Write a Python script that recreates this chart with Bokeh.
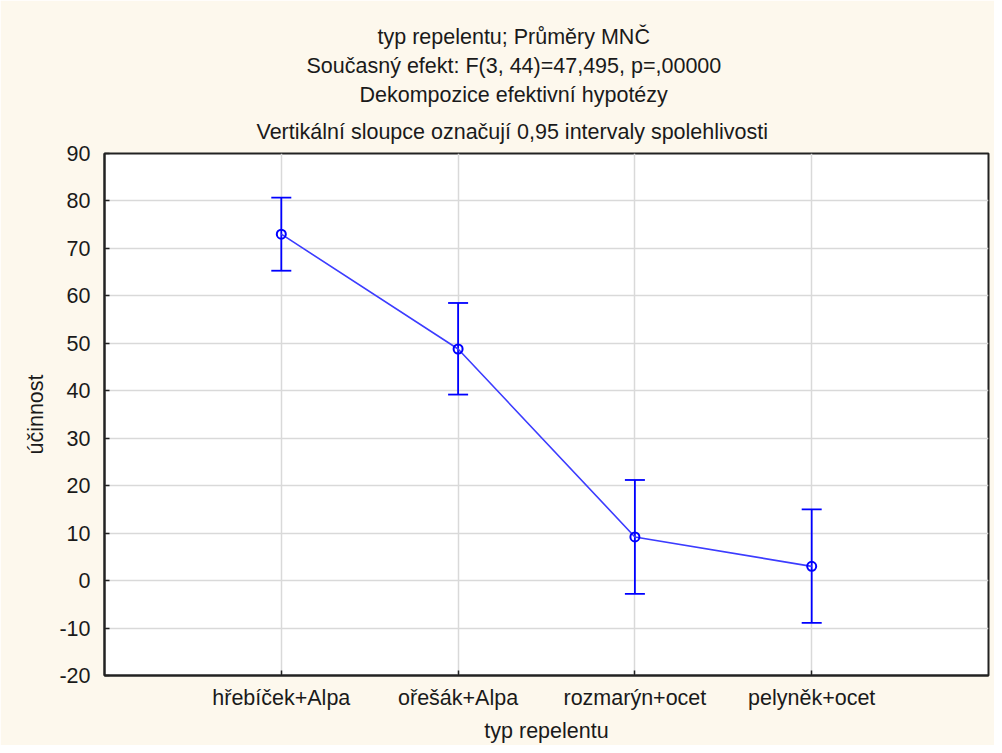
from bokeh.plotting import figure
from bokeh.models import (Range1d, ColumnDataSource, Whisker, TeeHead,
                          SingleIntervalTicker, FixedTicker, Title)
from bokeh.embed import file_html
from bokeh.resources import INLINE

categories = ["hřebíček+Alpa", "ořešák+Alpa", "rozmarýn+ocet", "pelyněk+ocet"]
means = [73.0, 48.8, 9.2, 3.0]
lower = [65.3, 39.2, -2.8, -8.9]
upper = [80.7, 58.5, 21.2, 15.0]

title_lines = [
    "typ repelentu; Průměry MNČ",
    "Současný efekt: F(3, 44)=47,495, p=,00000",
    "Dekompozice efektivní hypotézy",
    "Vertikální sloupce označují 0,95 intervaly spolehlivosti",
]
# left offsets (px from frame left) that centre each line near the canvas centre
title_offsets = [273, 202, 255, 152]

FONT = "Liberation Sans"
FS = "21.5px"
TXT = "#1a1a1a"
BG = "#fdf8ed"

pos = [i + 1 for i in range(len(categories))]

p = figure(width=994, height=745, output_backend="svg", toolbar_location=None,
           x_range=Range1d(0, len(categories) + 1),
           y_range=Range1d(-20, 90),
           min_border_left=104, min_border_right=6, min_border_top=153,
           min_border_bottom=68)

p.title.visible = False
n = len(title_lines)
for i in range(n - 1, -1, -1):
    t = Title(text=title_lines[i], align="left", offset=title_offsets[i],
              text_font=FONT, text_font_size=FS, text_font_style="normal",
              text_color=TXT, standoff=19 if i == n - 1 else 3)
    p.add_layout(t, "above")

p.background_fill_color = "white"
p.border_fill_color = BG
p.outline_line_color = "#222222"
p.outline_line_width = 2

src = ColumnDataSource(dict(x=pos, m=means, lo=lower, hi=upper))

p.line("x", "m", source=src, line_color="#3c3cff", line_width=1.6)
w = Whisker(base="x", lower="lo", upper="hi", source=src, dimension="height",
            line_color="#0000ff", line_width=1.8,
            upper_head=TeeHead(size=20, line_color="#0000ff", line_width=1.8),
            lower_head=TeeHead(size=20, line_color="#0000ff", line_width=1.8))
p.add_layout(w)
p.scatter("x", "m", source=src, marker="circle", size=9, line_color="#0000ff",
          line_width=2, fill_alpha=0)

xax = p.below[0]
yax = p.left[0]
xax.ticker = FixedTicker(ticks=pos)
xax.major_label_overrides = {k: c for k, c in zip(pos, categories)}
yax.ticker = SingleIntervalTicker(interval=10)
yax.major_label_overrides = {-20: "-20", -10: "-10"}
for ax in (xax, yax):
    ax.axis_line_color = "#222222"
    ax.axis_line_width = 2
    ax.major_tick_in = 5
    ax.major_tick_out = 0
    ax.major_tick_line_color = "#222222"
    ax.major_tick_line_width = 1.5
    ax.minor_tick_line_color = None
    ax.major_label_text_font = FONT
    ax.major_label_text_font_size = FS
    ax.major_label_text_color = TXT
    ax.axis_label_text_font = FONT
    ax.axis_label_text_font_size = FS
    ax.axis_label_text_font_style = "normal"
    ax.axis_label_text_color = TXT

yax.axis_label = "účinnost"
xax.axis_label = "typ repelentu"
yax.major_label_standoff = 10
yax.axis_label_standoff = 8
xax.major_label_standoff = 10
xax.axis_label_standoff = 6

p.xgrid.ticker = FixedTicker(ticks=pos)
p.xgrid.grid_line_color = "#d9d9d9"
p.xgrid.grid_line_width = 1.5
p.ygrid.grid_line_color = "#d9d9d9"
p.ygrid.grid_line_width = 1.5

open("out.html", "w").write(file_html(p, INLINE))
